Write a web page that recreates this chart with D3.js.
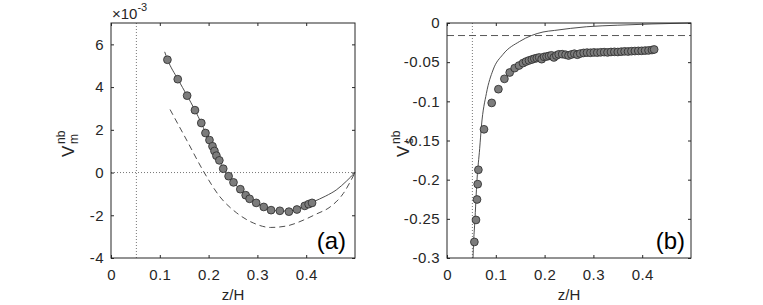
<!DOCTYPE html>
<html>
<head>
<meta charset="utf-8">
<script src="https://cdn.jsdelivr.net/npm/d3@7"></script>
<style>
  body { margin: 0; background: #fff; }
  svg { display: block; font-family: "Liberation Sans", Arial, Helvetica, sans-serif; }
  .tick text { fill: #262626; font-size: 15px; letter-spacing: 0.4px; }
  .tick line { stroke: #262626; }
</style>
</head>
<body>
<svg id="chart" width="763" height="305"></svg>
<script>
// ---- data ----
// panel (a): V_m^nb vs z/H, values in units of 1e-3
const aPtsZ = [0.1156, 0.1368, 0.156, 0.172, 0.185, 0.1936, 0.2018, 0.208, 0.212, 0.216, 0.222, 0.230, 0.241, 0.251, 0.265, 0.276, 0.284, 0.2975, 0.313, 0.328, 0.346, 0.3646, 0.381, 0.397, 0.405, 0.412];
const aPtsV = [5.28, 4.37, 3.60, 2.92, 2.32, 1.85, 1.52, 1.23, 1.01, 0.79, 0.57, 0.18, -0.17, -0.46, -0.78, -1.06, -1.23, -1.42, -1.61, -1.76, -1.79, -1.83, -1.73, -1.56, -1.48, -1.42];
const aFitZ = [0.110, 0.1156, 0.137, 0.156, 0.172, 0.185, 0.1936, 0.202, 0.212, 0.222, 0.230, 0.241, 0.251, 0.265, 0.284, 0.2975, 0.313, 0.328, 0.346, 0.365, 0.381, 0.397, 0.4145, 0.44, 0.4625, 0.4826, 0.5];
const aFitV = [5.65, 5.30, 4.37, 3.60, 2.92, 2.32, 1.88, 1.50, 1.03, 0.57, 0.20, -0.17, -0.46, -0.80, -1.20, -1.42, -1.61, -1.74, -1.80, -1.80, -1.71, -1.56, -1.37, -1.10, -0.80, -0.40, 0];
const aDashZ = [0.121, 0.155, 0.191, 0.2234, 0.2576, 0.2916, 0.327, 0.36, 0.394, 0.42, 0.449, 0.476, 0.5];
const aDashV = [2.95, 1.52, 0.0, -1.14, -1.89, -2.36, -2.57, -2.50, -2.23, -1.95, -1.61, -0.98, 0];
const aXTicks = [0, 0.1, 0.2, 0.3, 0.4];
const aYTicks = [-4, -2, 0, 2, 4, 6];

// panel (b): V_s^nb vs z/H
const bPtsZ = [0.0561, 0.0594, 0.0615, 0.0629, 0.0643, 0.0758, 0.0916, 0.1053, 0.1176, 0.1285, 0.1387, 0.1476, 0.1557, 0.162, 0.168, 0.174, 0.179, 0.184, 0.189, 0.194, 0.199, 0.204, 0.209, 0.214, 0.219, 0.224, 0.229, 0.236, 0.243, 0.249, 0.255, 0.261, 0.267, 0.273, 0.280, 0.287, 0.294, 0.301, 0.308, 0.315, 0.322, 0.329, 0.336, 0.343, 0.350, 0.357, 0.364, 0.371, 0.378, 0.385, 0.392, 0.399, 0.406, 0.413, 0.420, 0.4245];
const bPtsV = [-0.2795, -0.2514, -0.2253, -0.2057, -0.1874, -0.1357, -0.1020, -0.0845, -0.0713, -0.0632, -0.0576, -0.0543, -0.0512, -0.0492, -0.0478, -0.0466, -0.0455, -0.0448, -0.0440, -0.0462, -0.0432, -0.0428, -0.0420, -0.0413, -0.0440, -0.0415, -0.0400, -0.0398, -0.0405, -0.0415, -0.0402, -0.0392, -0.0405, -0.0390, -0.0382, -0.0378, -0.0380, -0.0376, -0.0378, -0.0374, -0.0372, -0.0375, -0.0370, -0.0368, -0.0370, -0.0366, -0.0362, -0.0364, -0.0360, -0.0358, -0.0356, -0.0355, -0.0352, -0.0350, -0.0345, -0.0338];
const bFitZ = [0.0533, 0.0545, 0.0568, 0.0615, 0.067, 0.0705, 0.0807, 0.0943, 0.1148, 0.149, 0.1967, 0.22, 0.2856, 0.35, 0.42, 0.5];
const bFitV = [-0.30, -0.28, -0.256, -0.20, -0.16, -0.132, -0.090, -0.060, -0.040, -0.0235, -0.0115, -0.0095, -0.0048, -0.0028, -0.0012, 0];
const bDashV = -0.016;
const bXTicks = [0, 0.1, 0.2, 0.3, 0.4];
const bYTicks = [0, -0.05, -0.1, -0.15, -0.2, -0.25, -0.3];

const zRef = 0.052; // dotted vertical line in both panels

// ---- drawing ----
const svg = d3.select('#chart');
const ink = '#262626';

function panel(opt) {
  const x = d3.scaleLinear().domain([0, 0.5]).range([opt.left, opt.left + 244]);
  const y = d3.scaleLinear().domain(opt.yDomain).range([258, 23]);
  const g = svg.append('g');

  // reference lines
  g.append('line')
    .attr('x1', x(zRef)).attr('x2', x(zRef))
    .attr('y1', y.range()[0]).attr('y2', y.range()[1])
    .attr('stroke', '#555').attr('stroke-width', 0.8).attr('stroke-dasharray', '1,2');
  opt.extra(g, x, y);

  const line = d3.line().x(d => x(d[0])).y(d => y(d[1])).curve(d3.curveMonotoneX);
  g.append('path')
    .attr('d', line(d3.zip(opt.fitZ, opt.fitV)))
    .attr('fill', 'none').attr('stroke', '#3a3a3a').attr('stroke-width', 0.9);

  g.selectAll('circle.pt')
    .data(d3.zip(opt.ptsZ, opt.ptsV))
    .enter().append('circle')
      .attr('class', 'pt')
      .attr('cx', d => x(d[0]))
      .attr('cy', d => y(d[1]))
      .attr('r', 3.9)
      .attr('fill', '#7c7c7c')
      .attr('stroke', '#2a2a2a')
      .attr('stroke-width', 0.8);

  // axes with inward ticks (MATLAB style box)
  const fmt = d => String(d);
  const bottom = g.append('g').attr('transform', 'translate(0,258)')
    .call(d3.axisBottom(x).tickValues(opt.xTicks).tickSize(-3).tickPadding(11).tickFormat(fmt));
  const left = g.append('g').attr('transform', `translate(${opt.left},0)`)
    .call(d3.axisLeft(y).tickValues(opt.yTicks).tickSize(-3).tickPadding(7).tickFormat(fmt));
  const top = g.append('g').attr('transform', 'translate(0,23)')
    .call(d3.axisTop(x).tickValues(opt.xTicks).tickSize(-3).tickFormat(''));
  const right = g.append('g').attr('transform', `translate(${opt.left + 244},0)`)
    .call(d3.axisRight(y).tickValues(opt.yTicks).tickSize(-3).tickFormat(''));
  [bottom, left, top, right].forEach(a => a.select('.domain').remove());
  bottom.selectAll('text').attr('dy', '0.71em');

  g.append('rect')
    .attr('x', opt.left).attr('y', 23).attr('width', 244).attr('height', 235)
    .attr('fill', 'none').attr('stroke', ink).attr('stroke-width', 1);

  // x label
  g.append('text')
    .attr('x', opt.left + 122).attr('y', 300)
    .attr('text-anchor', 'middle').attr('fill', ink).style('font-size', '15px')
    .text('z/H');

  // panel tag
  g.append('text')
    .attr('x', opt.left + 244 - opt.tagPad).attr('y', 249)
    .attr('text-anchor', 'end').attr('fill', '#000').style('font-size', '24px')
    .text(opt.tag);

  // rotated y label: V with stacked sub and superscript
  const yl = g.append('g').attr('transform', `translate(${opt.labelX},140) rotate(-90)`);
  yl.append('text').attr('x', -17).attr('y', 0).attr('fill', ink).style('font-size', '17px').text('V');
  yl.append('text').attr('x', -4).attr('y', 4).attr('fill', ink).style('font-size', '12px').text(opt.sub);
  yl.append('text').attr('x', -4).attr('y', -9).attr('fill', ink).style('font-size', '12px').text('nb');
}

panel({
  left: 111, yDomain: [-4, 7],
  ptsZ: aPtsZ, ptsV: aPtsV, fitZ: aFitZ, fitV: aFitV,
  xTicks: aXTicks, yTicks: aYTicks, tag: '(a)', tagPad: 9, sub: 'm', labelX: 74,
  extra: (g, x, y) => {
    g.append('line')
      .attr('x1', x.range()[0]).attr('x2', x.range()[1])
      .attr('y1', y(0)).attr('y2', y(0))
      .attr('stroke', '#555').attr('stroke-width', 0.8).attr('stroke-dasharray', '1,2');
    const line = d3.line().x(d => x(d[0])).y(d => y(d[1])).curve(d3.curveMonotoneX);
    g.append('path')
      .attr('d', line(d3.zip(aDashZ, aDashV)))
      .attr('fill', 'none').attr('stroke', '#3a3a3a').attr('stroke-width', 0.9)
      .attr('stroke-dasharray', '6,4');
  }
});

panel({
  left: 447, yDomain: [-0.3, 0],
  ptsZ: bPtsZ, ptsV: bPtsV, fitZ: bFitZ, fitV: bFitV,
  xTicks: bXTicks, yTicks: bYTicks, tag: '(b)', tagPad: 6, sub: 's', labelX: 409,
  extra: (g, x, y) => {
    g.append('line')
      .attr('x1', x.range()[0]).attr('x2', x.range()[1])
      .attr('y1', y(bDashV)).attr('y2', y(bDashV))
      .attr('stroke', '#444').attr('stroke-width', 0.9).attr('stroke-dasharray', '7,4');
  }
});

// exponent marker for panel (a)
const ex = svg.append('text').attr('x', 112).attr('y', 19).attr('fill', ink).style('font-size', '15px');
ex.append('tspan').text('\u00d710');
ex.append('tspan').attr('dy', -8).style('font-size', '11px').text('-3');
</script>
</body>
</html>
